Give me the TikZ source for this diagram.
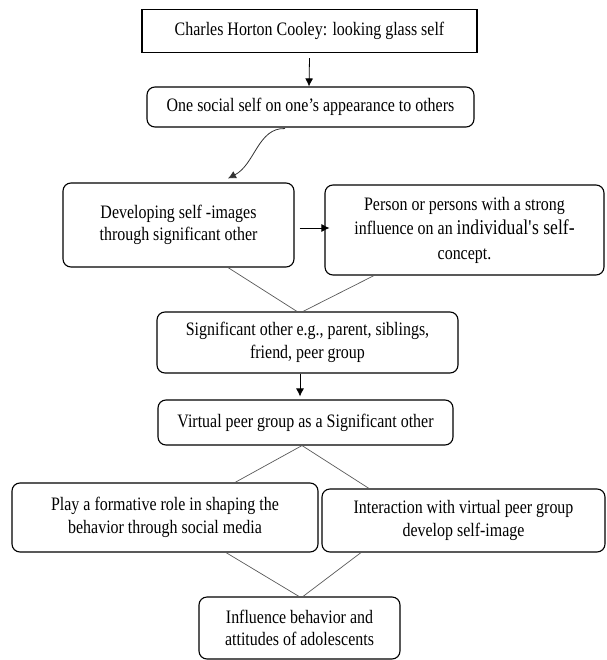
\documentclass[tikz,border=0pt]{standalone}
\usepackage{fontspec}
\setmainfont[FakeStretch=0.84]{Liberation Serif}
\usetikzlibrary{arrows.meta}

\begin{document}
\begin{tikzpicture}[x=1pt, y=-1pt,
    font=\fontsize{19}{22.5}\selectfont,
    box/.style={draw=black, line width=1.1pt, align=center, inner sep=0pt},
    rbox/.style={box, rounded corners=8pt},
    arr/.style={-{Latex[length=8pt,width=8pt]}, line width=0.8pt},
    link/.style={draw=black!65, line width=0.7pt}]
    \useasboundingbox (0,0) rectangle (606,660);
    % top of the chart
    \node[box, minimum width=335pt, minimum height=43pt] (cooley) at (309.5,31) {Charles Horton Cooley: looking glass self};
    \node[rbox, minimum width=327pt, minimum height=40pt] (social) at (310.5,107) {One social self on one’s appearance to others};
    % second row
    \node[rbox, minimum width=231pt, minimum height=84pt] (develop) at (178.5,225) {Developing self -images\\through significant other};
    \node[rbox, minimum width=279pt, minimum height=90pt, font=\fontsize{19}{24.5}\selectfont] (person) at (464.5,230) {Person or persons with a strong\\influence on an {\fontsize{21}{24.5}\selectfont individual\textquotesingle s self-}\\concept.};
    % middle boxes
    \node[rbox, minimum width=301pt, minimum height=61pt] (sigother) at (307.5,342.5) {Significant other e.g., parent, siblings,\\friend, peer group};
    \node[rbox, minimum width=295pt, minimum height=45pt] (virtual) at (305.5,422.5) {Virtual peer group as a Significant other};
    % fourth row
    \node[rbox, minimum width=306pt, minimum height=69pt] (formative) at (165,517.5) {Play a formative role in shaping the\\behavior through social media};
    \node[rbox, minimum width=283pt, minimum height=63pt] (interact) at (463.5,520.5) {Interaction with virtual peer group\\develop self-image};
    % bottom box
    \node[rbox, minimum width=201pt, minimum height=62pt] (influence) at (299.5,628) {Influence behavior and\\attitudes of adolescents};
    % arrows
    \draw[arr] ([yshift=-5pt]cooley.south) -- ([shift={(-1.5,0)}]social.north);
    \draw[arr, draw=black!80] ([shift={(-25.5,1)}]social.south) .. controls +(-27,-1) and +(27,-14) .. ([shift={(49.5,-4)}]develop.north);
    \draw[arr] ([shift={(5,3)}]develop.east) -- ([shift={(5,3)}]develop.east -| person.west);
    \draw[arr] ([shift={(-7.5,0)}]sigother.south) -- ([shift={(-7.5,-3)}]sigother.south |- virtual.north);
    % joining lines
    \draw[link] ([xshift=49.5pt]develop.south) -- ([xshift=-10.5pt]sigother.north);
    \draw[link] ([xshift=-90.5pt]person.south) -- ([xshift=-4.5pt]sigother.north);
    \draw[link] ([xshift=70pt]formative.north) -- ([xshift=-3.5pt]virtual.south) -- ([xshift=-94.5pt]interact.north);
    \draw[link] ([xshift=61pt]formative.south) -- ([xshift=-0.5pt]influence.north);
    \draw[link] ([xshift=-102.5pt]interact.south) -- ([xshift=3.5pt]influence.north);
\end{tikzpicture}
\end{document}
